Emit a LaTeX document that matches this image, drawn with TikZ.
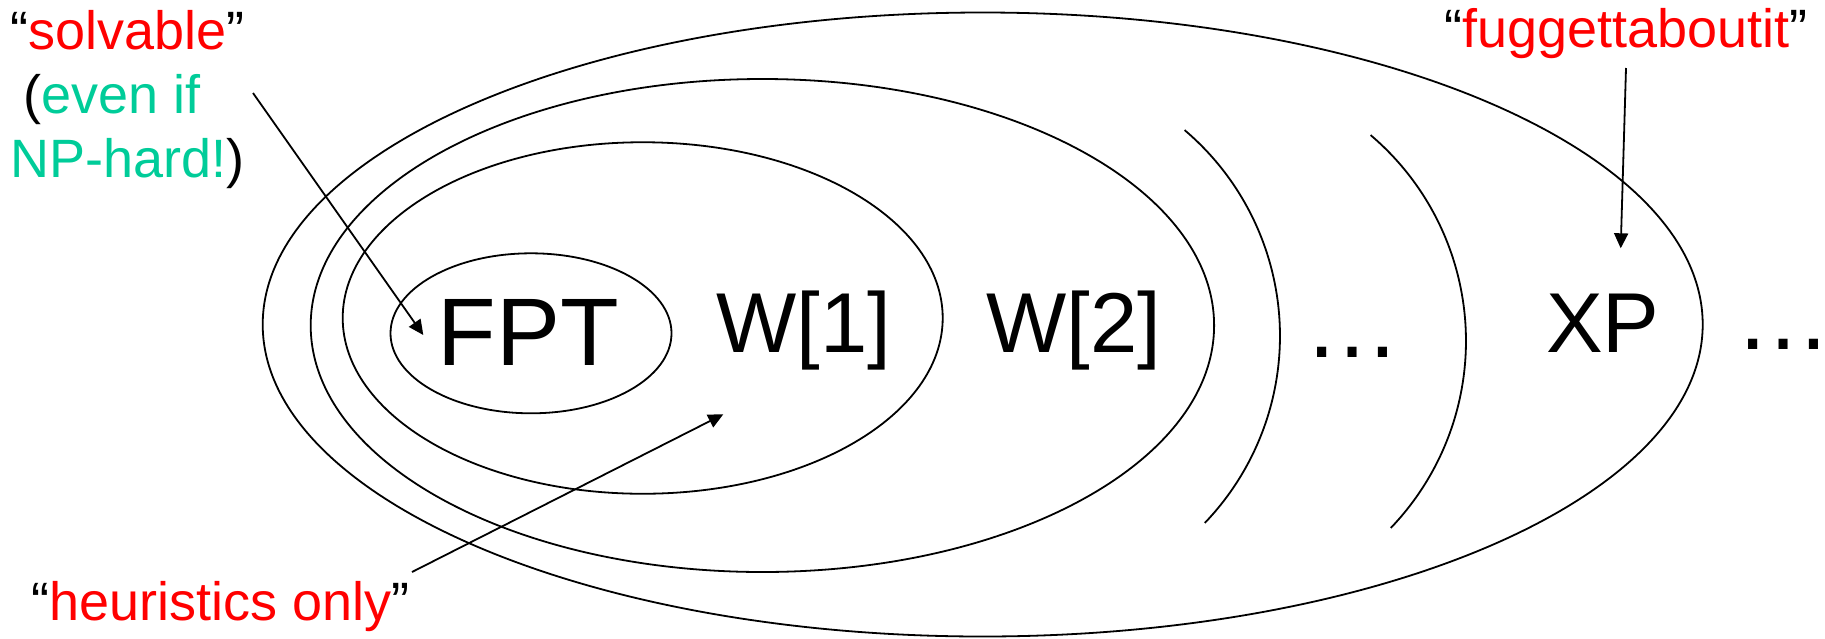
\documentclass[tikz,border=0pt]{standalone}
\usepackage{fontspec}
\setmainfont{Liberation Sans}
\usetikzlibrary{shapes.geometric,arrows.meta}
\definecolor{grn}{RGB}{0,204,153}
\definecolor{rd}{RGB}{255,0,0}
\begin{document}
\begin{tikzpicture}[x=1pt,y=-1pt,
  setE/.style={draw, ellipse, inner sep=0pt, outer sep=0pt, line width=1.8pt},
  lbl/.style={font=\fontsize{54}{64}\selectfont, inner sep=0pt, anchor=base west},
  big/.style={font=\fontsize{85}{100}\selectfont, inner sep=0pt, anchor=base west},
  bigger/.style={font=\fontsize{96}{110}\selectfont, inner sep=0pt, anchor=base west},
  arr/.style={-{Triangle[length=15pt,width=14pt]}, line width=1.8pt},
  arcline/.style={line width=1.8pt}]
\useasboundingbox (0,0) rectangle (1825,638);

% nested sets
\node[setE, minimum width=1440pt, minimum height=624pt] (xpE) at (982.7,324.5) {};
\node[setE, minimum width=903.4pt, minimum height=493pt] (w2E) at (762.4,325.5) {};
\node[setE, minimum width=600pt, minimum height=351.5pt] (w1E) at (642.7,318) {};
\node[setE, minimum width=281pt, minimum height=160pt] (fptE) at (531,333.3) {};

% open arcs
\draw[arcline] (1184.6,130.1) arc[start angle=-49.7, end angle=43.8, radius=270];
\draw[arcline] (1370.6,135.1) arc[start angle=-49.7, end angle=43.8, radius=270];

% class labels
\node[bigger] (fpt) at (437.4,365.7) {FPT};
\node[big] (w1) at (716,352) {W[1]};
\node[big] (w2) at (986,352.7) {W[2]};
\node[bigger] (dots1) at (1304,357) {…};
\node[big] (xp) at (1546,352) {XP};
\node[bigger] (dots2) at (1735,349) {…};

% annotations
\node[lbl] (solv1) at (10,49) {“\textcolor{rd}{solvable}”};
\node[lbl] (solv2) at (23.5,113) {(\textcolor{grn}{even if}};
\node[lbl] (solv3) at (10,177) {\textcolor{grn}{NP-hard!})};
\node[lbl] (heur) at (31,620) {“\textcolor{rd}{heuristics only}”};
\node[lbl] (fugg) at (1444,47) {“\textcolor{rd}{fuggettaboutit}”};

% arrows
\coordinate (s0) at (253,93);
\coordinate (s1) at (423.3,335);
\coordinate (h0) at (412,572);
\coordinate (h1) at (723.3,414.3);
\coordinate (f0) at (1626,68);
\coordinate (f1) at (1620.7,248.3);
\draw[arr] (s0) -- (s1);
\draw[arr] (h0) -- (h1);
\draw[arr] (f0) -- (f1);
\end{tikzpicture}
\end{document}
